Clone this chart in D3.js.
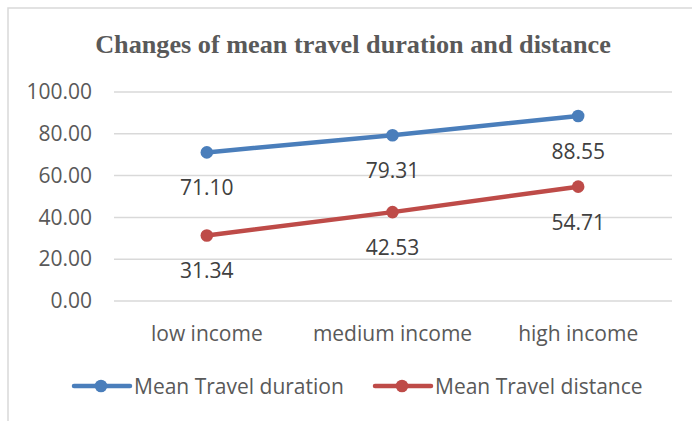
<!DOCTYPE html>
<html>
<head>
<meta charset="utf-8">
<script src="https://cdn.jsdelivr.net/npm/d3@7"></script>
<style>
  html, body { margin: 0; padding: 0; background: #fff; }
  svg { display: block; }
</style>
</head>
<body>
<svg id="chart" width="692" height="421"></svg>
<script>
const categories = ["low income", "medium income", "high income"];
const durationValues = [71.10, 79.31, 88.55];
const distanceValues = [31.34, 42.53, 54.71];
const seriesNames = ["Mean Travel duration", "Mean Travel distance"];
const yTicks = [0, 20, 40, 60, 80, 100];
const titleText = "Changes of mean travel duration and distance";

const series = [
  { name: seriesNames[0], values: durationValues, color: "#4a7ebb" },
  { name: seriesNames[1], values: distanceValues, color: "#be4b48" }
];

const svg = d3.select("#chart");
const font = "'Open Sans', sans-serif";
const grey = "#595959";

// chart area frame
svg.append("path")
  .attr("d", "M8,421 V8 H692")
  .attr("fill", "none")
  .attr("stroke", "#d9d9d9")
  .attr("stroke-width", 1.5);

// title
const title = svg.append("text")
  .attr("x", 353)
  .attr("y", 53)
  .attr("text-anchor", "middle")
  .attr("fill", grey)
  .attr("font-family", "'Liberation Serif', serif")
  .attr("font-weight", "bold")
  .attr("font-size", 24)
  .text(titleText);
const tw = title.node().getComputedTextLength();
title.attr("font-size", 24 * 516 / tw);

const x = d3.scaleBand().domain(categories).range([114, 671]).padding(0);
const y = d3.scaleLinear().domain([0, 100]).range([301, 92]);
const cx = c => x(c) + x.bandwidth() / 2;

// gridlines
svg.append("g")
  .selectAll("line")
  .data(yTicks)
  .join("line")
  .attr("x1", 114).attr("x2", 672)
  .attr("y1", d => y(d)).attr("y2", d => y(d))
  .attr("stroke", "#d9d9d9")
  .attr("stroke-width", 1.5);

// y axis labels
const yAxis = svg.append("g")
  .attr("transform", "translate(102,0)")
  .call(d3.axisLeft(y).tickValues(yTicks).tickFormat(d3.format(".2f")).tickSize(0).tickPadding(10));
yAxis.select(".domain").remove();
yAxis.selectAll("text")
  .attr("font-family", font)
  .attr("font-size", 21)
  .attr("fill", grey);

// x axis labels
const xAxis = svg.append("g")
  .attr("transform", "translate(0,320)")
  .call(d3.axisBottom(x).tickSize(0).tickPadding(0));
xAxis.select(".domain").remove();
xAxis.selectAll("text")
  .attr("font-family", font)
  .attr("font-size", 21)
  .attr("fill", grey)
  .attr("dy", null)
  .attr("y", 13)
  .attr("dominant-baseline", "central");

// lines, markers, data labels
const line = d3.line()
  .x((d, i) => cx(categories[i]))
  .y(d => y(d));

series.forEach(s => {
  const g = svg.append("g");
  g.append("path")
    .datum(s.values)
    .attr("d", line)
    .attr("fill", "none")
    .attr("stroke", s.color)
    .attr("stroke-width", 4.5)
    .attr("stroke-linecap", "round");
  g.selectAll("circle")
    .data(s.values)
    .join("circle")
    .attr("cx", (d, i) => cx(categories[i]))
    .attr("cy", d => y(d))
    .attr("r", 6.3)
    .attr("fill", s.color);
  g.selectAll("text")
    .data(s.values)
    .join("text")
    .attr("x", (d, i) => cx(categories[i]))
    .attr("y", d => y(d) + 35)
    .attr("text-anchor", "middle")
    .attr("dominant-baseline", "central")
    .attr("font-family", font)
    .attr("font-size", 21)
    .attr("fill", "#404040")
    .text(d => d3.format(".2f")(d));
});

// legend
const legendItems = [
  { s: series[0], x0: 74 },
  { s: series[1], x0: 375 }
];
legendItems.forEach(({ s, x0 }) => {
  const g = svg.append("g").attr("transform", `translate(${x0},386)`);
  g.append("line")
    .attr("x1", 0).attr("x2", 56)
    .attr("y1", 0).attr("y2", 0)
    .attr("stroke", s.color)
    .attr("stroke-width", 4.5)
    .attr("stroke-linecap", "round");
  g.append("circle").attr("cx", 27).attr("cy", 0).attr("r", 6.3).attr("fill", s.color);
  g.append("text")
    .attr("x", 60)
    .attr("y", 0)
    .attr("dominant-baseline", "central")
    .attr("font-family", font)
    .attr("font-size", 21)
    .attr("fill", grey)
    .text(s.name);
});
</script>
</body>
</html>
